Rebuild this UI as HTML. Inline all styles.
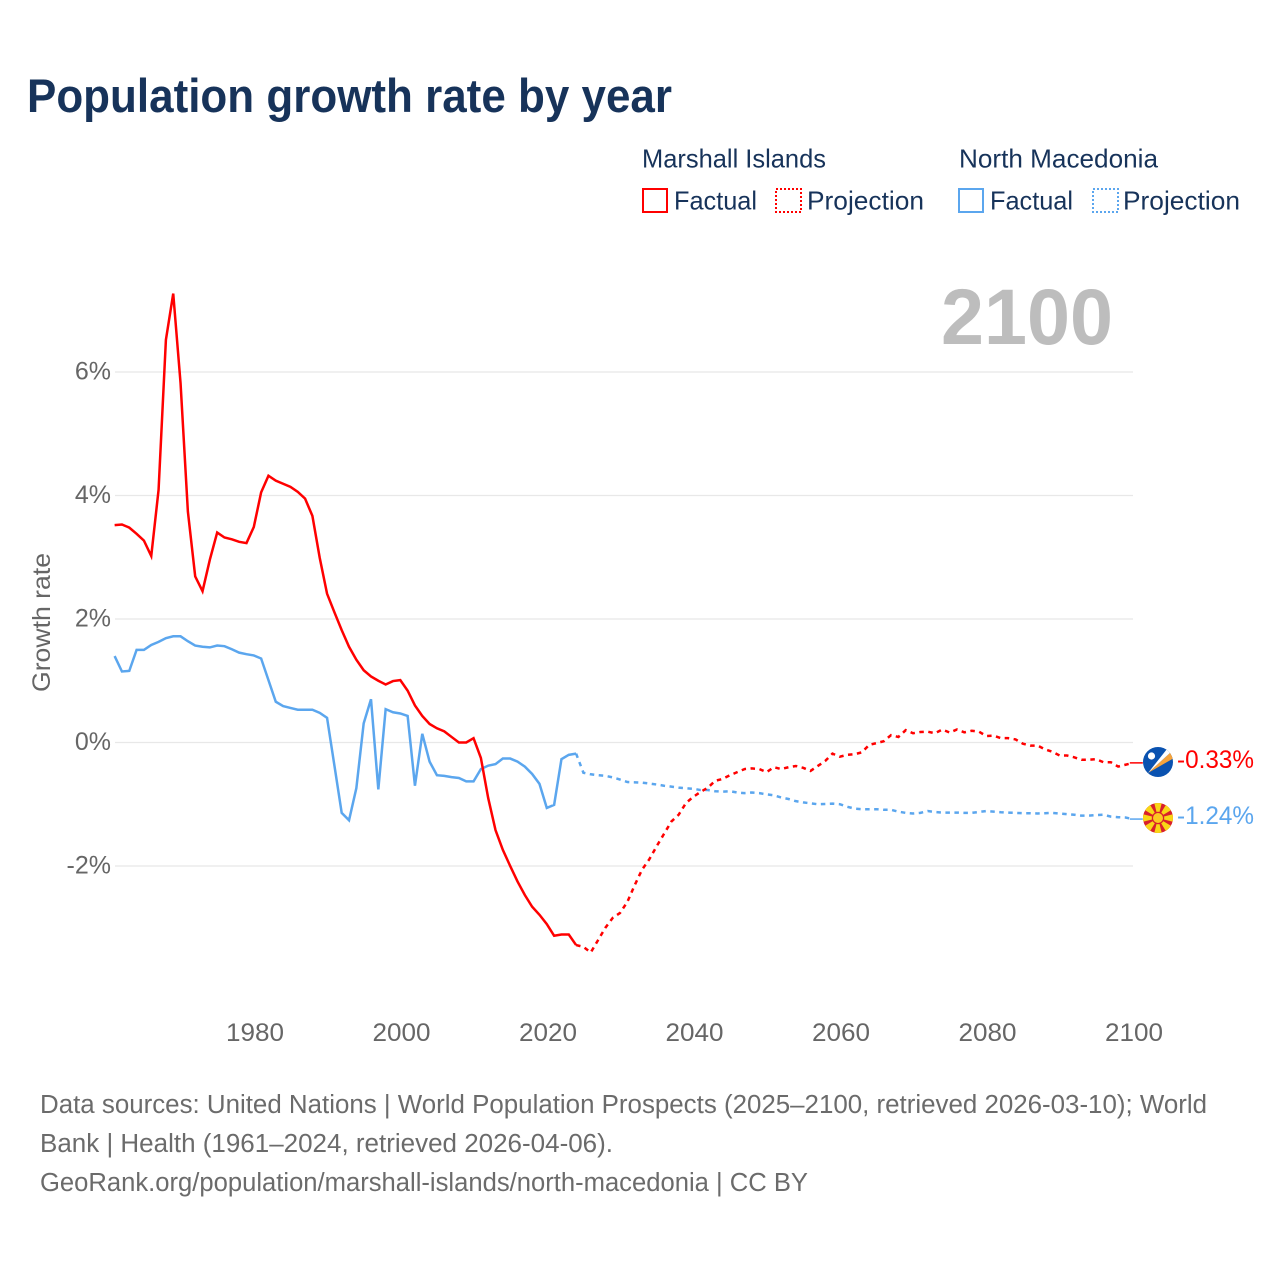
<!DOCTYPE html>
<html lang="en">
<head>
<meta charset="utf-8">
<title>Population growth rate by year</title>
<style>
html,body{margin:0;padding:0;background:#fff}
svg{display:block}
text{font-family:"Liberation Sans",sans-serif}
</style>
</head>
<body>
<svg id="chart" xmlns="http://www.w3.org/2000/svg" width="1280" height="1280" viewBox="0 0 1280 1280">
  <rect width="1280" height="1280" fill="#fff"/>
  <text x="27" y="112" font-size="47" font-weight="700" fill="#17335a" textLength="645" lengthAdjust="spacingAndGlyphs">Population growth rate by year</text>

  <g font-size="26" fill="#17335a">
    <text x="642" y="167.5" textLength="184" lengthAdjust="spacingAndGlyphs">Marshall Islands</text>
    <rect x="643" y="189" width="24" height="23" fill="none" stroke="#ff0000" stroke-width="2"/>
    <text x="674" y="209.5" textLength="83" lengthAdjust="spacingAndGlyphs">Factual</text>
    <rect x="776" y="189" width="25" height="23" fill="none" stroke="#ff0000" stroke-width="2" stroke-dasharray="2 2"/>
    <text x="807" y="209.5" textLength="117" lengthAdjust="spacingAndGlyphs">Projection</text>

    <text x="959" y="167.5" textLength="199" lengthAdjust="spacingAndGlyphs">North Macedonia</text>
    <rect x="959" y="189" width="24" height="23" fill="none" stroke="#5ba6ee" stroke-width="2"/>
    <text x="990" y="209.5" textLength="83" lengthAdjust="spacingAndGlyphs">Factual</text>
    <rect x="1093" y="189" width="25" height="23" fill="none" stroke="#5ba6ee" stroke-width="2" stroke-dasharray="2 2"/>
    <text x="1123" y="209.5" textLength="117" lengthAdjust="spacingAndGlyphs">Projection</text>
  </g>

  <text x="941" y="344" font-size="79" font-weight="700" fill="#bdbdbd" textLength="172" lengthAdjust="spacingAndGlyphs">2100</text>

  <g id="grid"></g>
  <g id="y-ticks"></g>
  <g id="x-ticks"></g>
  <text transform="translate(50,692) rotate(-90)" font-size="25" fill="#666" textLength="139" lengthAdjust="spacingAndGlyphs">Growth rate</text>

  <g id="series"></g>

  <defs>
    <clipPath id="flag-clip-mh"><circle cx="1158" cy="762" r="15"/></clipPath>
    <clipPath id="flag-clip-mk"><circle cx="1158" cy="818" r="15"/></clipPath>
  </defs>
  <g clip-path="url(#flag-clip-mh)">
    <rect x="1142" y="746" width="32" height="32" fill="#0a52b0"/>
    <polygon points="1148,773 1171,752 1174,758" fill="#f5a33c"/>
    <polygon points="1148,773 1167,749 1171,752" fill="#fff"/>
    <circle cx="1151.5" cy="756" r="3.6" fill="#fff"/>
  </g>
  <g clip-path="url(#flag-clip-mk)">
    <rect x="1142" y="802" width="32" height="32" fill="#d8202c"/>
    <g fill="#f9d616">
      <polygon points="1158,818 1154,802 1162,802"/>
      <polygon points="1158,818 1154,802 1162,802" transform="rotate(45 1158 818)"/>
      <polygon points="1158,818 1154,802 1162,802" transform="rotate(90 1158 818)"/>
      <polygon points="1158,818 1154,802 1162,802" transform="rotate(135 1158 818)"/>
      <polygon points="1158,818 1154,802 1162,802" transform="rotate(180 1158 818)"/>
      <polygon points="1158,818 1154,802 1162,802" transform="rotate(225 1158 818)"/>
      <polygon points="1158,818 1154,802 1162,802" transform="rotate(270 1158 818)"/>
      <polygon points="1158,818 1154,802 1162,802" transform="rotate(315 1158 818)"/>
    </g>
    <circle cx="1158" cy="818" r="6.2" fill="#d8202c"/>
    <circle cx="1158" cy="818" r="5" fill="#fbc921"/>
  </g>
  <text x="1177" y="768" font-size="25" fill="#ff0000" textLength="77" lengthAdjust="spacingAndGlyphs">-0.33%</text>
  <text x="1177" y="824" font-size="25" fill="#5ba6ee" textLength="77" lengthAdjust="spacingAndGlyphs">-1.24%</text>

  <g font-size="25.5" fill="#6b6b6b">
    <text x="40" y="1113" textLength="1167" lengthAdjust="spacingAndGlyphs">Data sources: United Nations | World Population Prospects (2025–2100, retrieved 2026-03-10); World</text>
    <text x="40" y="1152" textLength="573" lengthAdjust="spacingAndGlyphs">Bank | Health (1961–2024, retrieved 2026-04-06).</text>
    <text x="40" y="1191" textLength="768" lengthAdjust="spacingAndGlyphs">GeoRank.org/population/marshall-islands/north-macedonia | CC BY</text>
  </g>
</svg>
<script>
var yTickValues = [6, 4, 2, 0, -2];
var yTickLabels = ['6%', '4%', '2%', '0%', '-2%'];
var xTickYears = [1980, 2000, 2020, 2040, 2060, 2080, 2100];

var factualStartYear = 1961;
var projectionStartYear = 2024;

var marshallFactual = [
  3.52,3.53,3.48,3.38,3.27,3.02,4.09,6.52,7.27,5.82,
  3.74,2.69,2.45,2.96,3.40,3.32,3.29,3.25,3.23,3.49,
  4.05,4.32,4.24,4.19,4.14,4.06,3.95,3.67,2.99,2.41,
  2.11,1.82,1.55,1.34,1.17,1.07,1.00,0.94,0.995,1.01,
  0.84,0.60,0.43,0.30,0.23,0.18,0.09,0.00,0.00,0.07,
  -0.25,-0.90,-1.42,-1.74,-2.00,-2.25,-2.47,-2.66,-2.79,-2.94,
  -3.13,-3.11,-3.11,-3.28
];
var marshallProjection = [
  -3.28,-3.31,-3.40,-3.20,-3.00,-2.84,-2.76,
  -2.58,-2.31,-2.06,-1.89,-1.68,-1.48,-1.28,-1.17,-0.98,-0.88,
  -0.80,-0.73,-0.62,-0.59,-0.53,-0.48,-0.43,-0.42,-0.43,-0.48,
  -0.40,-0.43,-0.40,-0.38,-0.41,-0.46,-0.38,-0.30,-0.18,-0.23,
  -0.20,-0.19,-0.16,-0.04,-0.01,0.02,0.12,0.09,0.20,0.15,
  0.17,0.175,0.15,0.21,0.16,0.21,0.165,0.19,0.175,0.105,
  0.11,0.07,0.07,0.05,-0.02,-0.05,-0.05,-0.11,-0.15,-0.21,
  -0.21,-0.24,-0.28,-0.28,-0.27,-0.32,-0.32,-0.39,-0.36,-0.33
];
var macedoniaFactual = [
  1.40,1.15,1.16,1.50,1.50,1.58,1.63,1.69,1.72,1.72,
  1.64,1.57,1.55,1.54,1.57,1.56,1.51,1.455,1.43,1.41,
  1.36,1.01,0.66,0.59,0.56,0.53,0.53,0.53,0.48,0.40,
  -0.37,-1.14,-1.26,-0.74,0.31,0.70,-0.76,0.54,0.49,0.47,
  0.43,-0.70,0.14,-0.31,-0.53,-0.54,-0.56,-0.575,-0.63,-0.63,
  -0.43,-0.375,-0.35,-0.26,-0.26,-0.31,-0.39,-0.51,-0.67,-1.06,
  -1.01,-0.27,-0.20,-0.18
];
var macedoniaProjection = [
  -0.18,-0.49,-0.515,-0.53,-0.54,-0.565,-0.60,
  -0.64,-0.645,-0.65,-0.665,-0.68,-0.70,-0.715,-0.73,-0.74,-0.75,
  -0.77,-0.77,-0.79,-0.795,-0.79,-0.81,-0.82,-0.81,-0.82,-0.84,
  -0.855,-0.89,-0.915,-0.95,-0.97,-0.985,-1.00,-0.995,-0.99,-1.00,
  -1.04,-1.07,-1.08,-1.08,-1.08,-1.09,-1.09,-1.12,-1.14,-1.15,
  -1.14,-1.11,-1.125,-1.135,-1.135,-1.135,-1.14,-1.14,-1.125,-1.11,
  -1.12,-1.13,-1.135,-1.14,-1.145,-1.145,-1.15,-1.145,-1.14,-1.15,
  -1.16,-1.17,-1.185,-1.185,-1.175,-1.17,-1.20,-1.21,-1.215,-1.24
];

var SVG_NS = 'http://www.w3.org/2000/svg';
var plotLeft = 115;
var plotRight = 1133;
var RED = '#ff0000';
var BLUE = '#5ba6ee';

function xScale(year) {
  return 255 + (year - 1980) * 7.325;
}
function xData(year) {
  return xScale(year) - 1.2;
}
function yScale(value) {
  return 742.5 - value * 61.75;
}
function linePath(values, startYear) {
  return values.map(function (v, i) {
    return (i ? 'L' : 'M') + xData(startYear + i).toFixed(2) + ' ' + yScale(v).toFixed(2);
  }).join(' ');
}
function svgEl(tag, parent) {
  var el = document.createElementNS(SVG_NS, tag);
  parent.appendChild(el);
  return el;
}

var gridGroup = document.getElementById('grid');
var yTickGroup = document.getElementById('y-ticks');
var xTickGroup = document.getElementById('x-ticks');
var seriesGroup = document.getElementById('series');

yTickValues.forEach(function (v, i) {
  var line = svgEl('line', gridGroup);
  
  
  line.setAttribute('x1', plotLeft);
  line.setAttribute('x2', plotRight);
  line.setAttribute('y1', yScale(v));
  line.setAttribute('y2', yScale(v));
  line.setAttribute('stroke', '#e8e8e8');
  line.setAttribute('stroke-width', '1.2');

  var label = svgEl('text', yTickGroup);
  
  
  label.setAttribute('x', 111);
  label.setAttribute('y', yScale(v) + 7.5);
  label.setAttribute('text-anchor', 'end');
  label.setAttribute('font-size', '25');
  label.setAttribute('fill', '#666');
  label.textContent = yTickLabels[i];
});

xTickYears.forEach(function (year) {
  var label = svgEl('text', xTickGroup);
  
  
  label.setAttribute('x', xScale(year));
  label.setAttribute('y', 1041);
  label.setAttribute('text-anchor', 'middle');
  label.setAttribute('font-size', '25');
  label.setAttribute('fill', '#666');
  label.setAttribute('textLength', '58');
  label.setAttribute('lengthAdjust', 'spacingAndGlyphs');
  label.textContent = String(year);
});

function drawSeries(values, startYear, color, dashed, name) {
  var path = svgEl('path', seriesGroup);
  
  
  path.setAttribute('d', linePath(values, startYear));
  path.setAttribute('fill', 'none');
  path.setAttribute('stroke', color);
  path.setAttribute('stroke-width', '2.5');
  path.setAttribute('stroke-linejoin', 'miter');
  if (dashed) {
    path.setAttribute('stroke-dasharray', '4.5 4.5');
  }
}
drawSeries(macedoniaFactual, factualStartYear, BLUE, false, 'north-macedonia-factual-line');
drawSeries(macedoniaProjection, projectionStartYear, BLUE, true, 'north-macedonia-projection-line');
drawSeries(marshallFactual, factualStartYear, RED, false, 'marshall-islands-factual-line');
drawSeries(marshallProjection, projectionStartYear, RED, true, 'marshall-islands-projection-line');

function drawConnector(values, color, name) {
  var last = values[values.length - 1];
  var line = svgEl('line', seriesGroup);
  
  
  line.setAttribute('x1', xData(2100) - 3);
  line.setAttribute('x2', xData(2100) + 10);
  line.setAttribute('y1', yScale(last));
  line.setAttribute('y2', yScale(last));
  line.setAttribute('stroke', color);
  line.setAttribute('stroke-width', '1.5');
}
drawConnector(marshallProjection, RED, 'marshall-islands-flag-connector');
drawConnector(macedoniaProjection, BLUE, 'north-macedonia-flag-connector');
</script>
</body>
</html>
